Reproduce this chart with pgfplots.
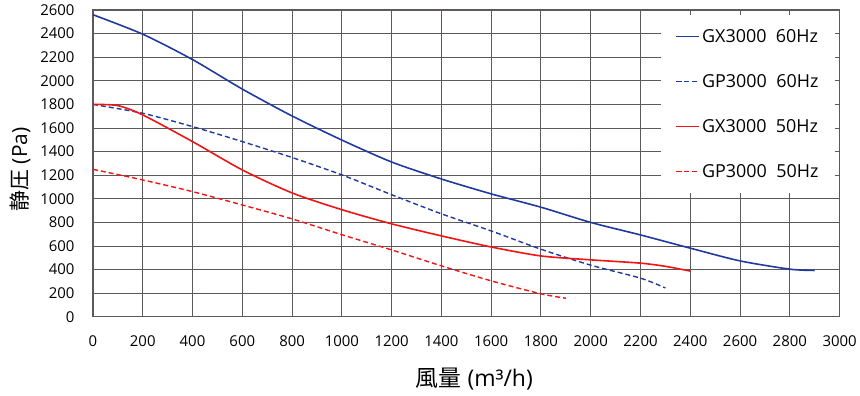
\documentclass[border=0pt]{standalone}
\usepackage{fontspec}
\setmainfont{Open Sans}
\newfontfamily\cjk{Noto Sans CJK JP}
\usepackage{pgfplots}
\pgfplotsset{compat=1.18}
\usetikzlibrary{calc}
\definecolor{cblue}{RGB}{32,58,160}
\definecolor{cred}{RGB}{240,20,20}
\definecolor{cgrid}{RGB}{95,90,90}
\begin{document}
\begin{tikzpicture}
\begin{axis}[
  scale only axis,
  width=747bp, height=307bp,
  xmin=0, xmax=3000, ymin=0, ymax=2600,
  xtick distance=200, ytick distance=200,
  grid=major,
  grid style={cgrid, line width=0.9bp},
  axis line style={cgrid, line width=1.1bp},
  major tick length=0pt,
  /pgf/number format/assume math mode=true,
  /pgf/number format/set thousands separator={},
  ticklabel style={font=\fontsize{15}{17}\selectfont, text=black},
  xticklabel style={yshift=-15bp},
  yticklabel style={xshift=-15bp},
  xlabel={{\cjk 風量} (m³/h)},
  ylabel={{\cjk 静圧} (Pa)},
  xlabel style={font=\fontsize{23}{26}\selectfont, at={(rel axis cs:0.5,0)}, anchor=north, yshift=-48bp, xshift=8bp},
  ylabel style={font=\fontsize{21}{24}\selectfont, at={(rel axis cs:0,0.5)}, anchor=south, yshift=59bp, xshift=-6bp},
  legend style={at={(rel axis cs:0.9946,0.9837)}, anchor=north east, fill=white, draw=none,
    font=\fontsize{18}{20}\selectfont, row sep=26.5bp, inner xsep=15bp, inner ysep=12bp},
  legend cell align=left,
  legend image code/.code={\draw[mark repeat=2,mark phase=2,#1,line width=1.5bp] plot coordinates {(0bp,0bp) (11.5bp,0bp) (23bp,0bp)};},
]
\addplot[cblue, line width=1.6bp, smooth, tension=0.45] coordinates {
(0,2560)(200,2395)(400,2180)(600,1930)(800,1702)(1000,1498)(1200,1312)(1400,1168)(1600,1042)(1800,929)(2000,800)(2200,694)(2400,582)(2600,474)(2800,404)(2900,393)};
\addlegendentry{GX3000\ \ 60Hz}
\addplot[cblue, line width=1.4bp, dash pattern=on 5bp off 3bp, smooth, tension=0.45] coordinates {
(0,1800)(200,1725)(400,1612)(600,1485)(800,1350)(1000,1203)(1200,1035)(1400,873)(1600,728)(1800,573)(2000,438)(2200,328)(2300,245)};
\addlegendentry{GP3000\ \ 60Hz}
\addplot[cred, line width=1.6bp, smooth, tension=0.45] coordinates {
(0,1800)(100,1790)(200,1711)(400,1485)(600,1245)(800,1050)(1000,908)(1200,788)(1400,686)(1600,592)(1800,516)(2000,483)(2200,455)(2300,428)(2400,388)};
\addlegendentry{GX3000\ \ 50Hz}
\addplot[cred, line width=1.4bp, dash pattern=on 5bp off 3bp, smooth, tension=0.45] coordinates {
(0,1250)(200,1160)(400,1061)(600,948)(800,830)(1000,696)(1200,567)(1400,432)(1600,305)(1800,195)(1900,158)};
\addlegendentry{GP3000\ \ 50Hz}
\end{axis}
\useasboundingbox ($(current axis.south west)+(-93bp,-79bp)$) rectangle ($(current axis.north east)+(20bp,10bp)$);
\end{tikzpicture}
\end{document}
